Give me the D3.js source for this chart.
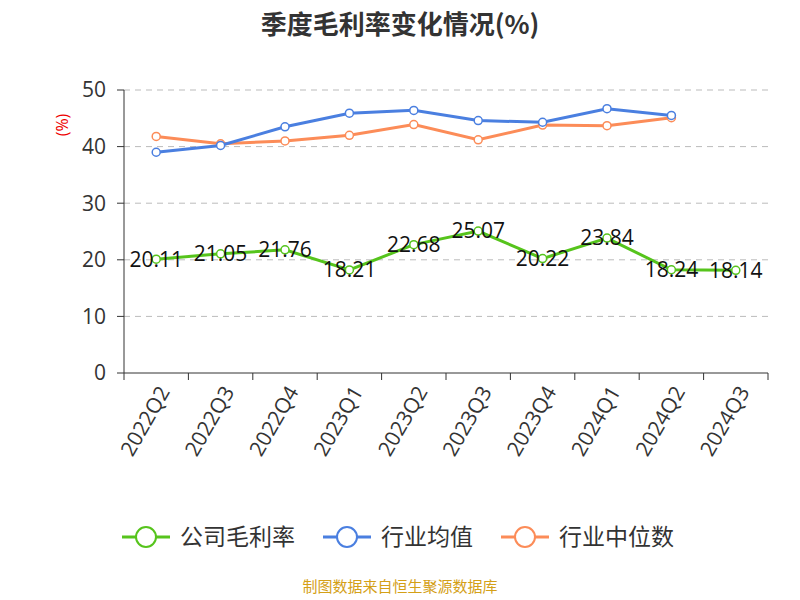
<!DOCTYPE html>
<html><head><meta charset="utf-8">
<script src="https://cdn.jsdelivr.net/npm/d3@7"></script>
<style>body{margin:0;background:#fff}</style>
</head><body>
<svg id="c" width="800" height="600"></svg>
<script>
const categories=["2022Q2","2022Q3","2022Q4","2023Q1","2023Q2","2023Q3","2023Q4","2024Q1","2024Q2","2024Q3"];
const company=[20.11,21.05,21.76,18.21,22.68,25.07,20.22,23.84,18.24,18.14];
const industryAvg=[39.0,40.2,43.5,45.9,46.4,44.6,44.3,46.7,45.5];
const industryMed=[41.8,40.5,41.0,42.0,43.9,41.2,43.8,43.7,45.1];
const yTicks=[0,10,20,30,40,50];
const font="'Open Sans','Noto Sans CJK SC',sans-serif";
const cjk="'Noto Sans CJK SC',sans-serif";
const svg=d3.select("#c");
const x=d3.scaleBand().domain(categories).range([124,768]);
const y=d3.scaleLinear().domain([0,50]).range([373,90]);
const cx=d=>x(d)+x.bandwidth()/2;
svg.append("text").attr("x",400).attr("y",34).attr("text-anchor","middle").attr("font-family",cjk).attr("font-size",26).attr("font-weight","bold").attr("fill","#333").text("季度毛利率变化情况(%)");
yTicks.forEach(t=>{
 if(t>0) svg.append("line").attr("x1",124).attr("x2",768).attr("y1",y(t)).attr("y2",y(t)).attr("stroke","#bbb").attr("stroke-dasharray","6,5");
 svg.append("text").attr("x",106).attr("y",y(t)).attr("dy","0.35em").attr("text-anchor","end").attr("font-family",font).attr("font-size",21).attr("fill","#333").text(t);
 svg.append("line").attr("x1",117).attr("x2",124).attr("y1",y(t)).attr("y2",y(t)).attr("stroke","#333");
});
svg.append("line").attr("x1",124).attr("x2",124).attr("y1",90).attr("y2",373).attr("stroke","#333");
svg.append("line").attr("x1",124).attr("x2",768).attr("y1",373).attr("y2",373).attr("stroke","#333");
svg.append("text").attr("transform","translate(68,125) rotate(-90)").attr("text-anchor","middle").attr("font-family",font).attr("font-size",16).attr("fill","#e00").text("(%)");
categories.forEach((c,i)=>{
 svg.append("line").attr("x1",x(c)).attr("x2",x(c)).attr("y1",373).attr("y2",380).attr("stroke","#333");
 svg.append("text").attr("transform",`translate(${cx(c)+8},388) rotate(-60)`).attr("text-anchor","end").attr("dy","0.35em").attr("font-family",font).attr("font-size",21).attr("fill","#333").text(c);
});
svg.append("line").attr("x1",768).attr("x2",768).attr("y1",373).attr("y2",380).attr("stroke","#333");
const series=[[industryMed,"#fc8c58"],[industryAvg,"#4a7fe0"],[company,"#56c41c"]];
series.forEach(([d,col])=>{
 const pts=d.map((v,i)=>[cx(categories[i]),y(v)]);
 svg.append("path").attr("d",d3.line()(pts)).attr("fill","none").attr("stroke",col).attr("stroke-width",3);
 pts.forEach(p=>svg.append("circle").attr("cx",p[0]).attr("cy",p[1]).attr("r",4).attr("fill","#fff").attr("stroke",col).attr("stroke-width",1.5));
});
company.forEach((v,i)=>svg.append("text").attr("x",cx(categories[i])).attr("y",y(v)).attr("dy","0.35em").attr("text-anchor","middle").attr("font-family",font).attr("font-size",21).attr("fill","#111").text(v.toFixed(2)));
const leg=[["公司毛利率","#56c41c",122],["行业均值","#4a7fe0",323],["行业中位数","#fc8c58",501]];
leg.forEach(([t,col,lx])=>{
 svg.append("line").attr("x1",lx).attr("x2",lx+48).attr("y1",537).attr("y2",537).attr("stroke",col).attr("stroke-width",3);
 svg.append("circle").attr("cx",lx+24).attr("cy",537).attr("r",10).attr("fill","#fff").attr("stroke",col).attr("stroke-width",2);
 svg.append("text").attr("x",lx+58).attr("y",537).attr("dy","0.35em").attr("font-family",cjk).attr("font-size",23).attr("fill","#333").text(t);
});
svg.append("text").attr("x",400).attr("y",592).attr("text-anchor","middle").attr("font-family",cjk).attr("font-size",15).attr("fill","#d4a017").text("制图数据来自恒生聚源数据库");
</script>
</body></html>
